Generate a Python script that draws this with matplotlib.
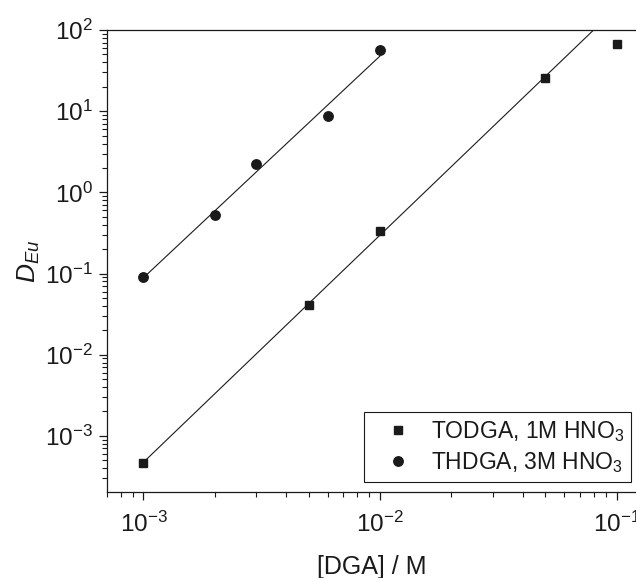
import matplotlib
matplotlib.use("Agg")
import matplotlib.pyplot as plt
import numpy as np
from matplotlib.ticker import LogLocator, FuncFormatter, NullFormatter

plt.rcParams['font.family'] = ['Liberation Sans', 'DejaVu Sans']
plt.rcParams['mathtext.fontset'] = 'custom'
plt.rcParams['mathtext.rm'] = 'Liberation Sans'
plt.rcParams['mathtext.it'] = 'Liberation Sans:italic'

# data
todga_x = [1e-3, 5e-3, 1e-2, 5e-2, 1e-1]
todga_y = [4.6e-4, 0.0414, 0.336, 25.5, 68]
thdga_x = [1e-3, 2e-3, 3e-3, 6e-3, 1e-2]
thdga_y = [0.091, 0.53, 2.24, 8.85, 56]

# ranges of the fitted lines (the last TODGA point is left out of the fit)
todga_fit_range = [1e-3, 0.081]
thdga_fit_range = [1e-3, 1e-2]

fig = plt.figure(figsize=(6.36, 5.78), dpi=100)
ax = fig.add_axes([0.168, 0.149, 0.832, 0.799])

c = '#1a1a1a'

# fit on log scale
p1 = np.polyfit(np.log10(todga_x[:4]), np.log10(todga_y[:4]), 1)
p2 = np.polyfit(np.log10(thdga_x), np.log10(thdga_y), 1)
xf1 = np.array(todga_fit_range)
xf2 = np.array(thdga_fit_range)
ax.plot(xf1, 10 ** np.polyval(p1, np.log10(xf1)), color=c, lw=0.8)
ax.plot(xf2, 10 ** np.polyval(p2, np.log10(xf2)), color=c, lw=0.8)

ax.plot(todga_x, todga_y, 's', color=c, ms=6, ls='none', label='TODGA, 1M HNO$_3$')
ax.plot(thdga_x, thdga_y, 'o', color=c, ms=6.8, ls='none', label='THDGA, 3M HNO$_3$')

ax.set_xscale('log')
ax.set_yscale('log')
ax.set_xlim(7.0e-4, 0.1207)
ax.set_ylim(2.04e-4, 100)

fmt = FuncFormatter(lambda v, pos: r'$\mathregular{10^{%d}}$' % round(np.log10(v)))
ax.xaxis.set_major_locator(LogLocator(base=10, numticks=10))
ax.yaxis.set_major_locator(LogLocator(base=10, numticks=10))
ax.xaxis.set_major_formatter(fmt)
ax.yaxis.set_major_formatter(fmt)
ax.xaxis.set_minor_locator(LogLocator(base=10, subs=np.arange(2, 10), numticks=20))
ax.yaxis.set_minor_locator(LogLocator(base=10, subs=np.arange(2, 10), numticks=20))
ax.xaxis.set_minor_formatter(NullFormatter())
ax.yaxis.set_minor_formatter(NullFormatter())

ax.tick_params(which='major', direction='out', length=6, width=0.9, labelsize=17.5, colors=c, pad=4)
ax.tick_params(which='minor', direction='out', length=3.5, width=0.8, colors=c)
ax.tick_params(axis='x', pad=8)

ax.spines['right'].set_visible(False)
for s in ['left', 'bottom', 'top']:
    ax.spines[s].set_linewidth(0.9)
    ax.spines[s].set_color(c)

ax.set_xlabel('[DGA] / M', fontsize=18, color=c, labelpad=13)
ax.set_ylabel(r'$\mathit{D}_{\mathit{Eu}}$', fontsize=19, color=c, labelpad=2)

leg = ax.legend(loc='lower right', bbox_to_anchor=(1.0, 0.012), fontsize=16.5,
                frameon=True, fancybox=False, edgecolor=c, framealpha=1,
                handletextpad=0.25, borderpad=0.3, labelspacing=0.25, handlelength=2.4,
                borderaxespad=0.2)
leg.get_frame().set_linewidth(0.8)
for t in leg.get_texts():
    t.set_color(c)

fig.savefig('out.png', dpi=100)
